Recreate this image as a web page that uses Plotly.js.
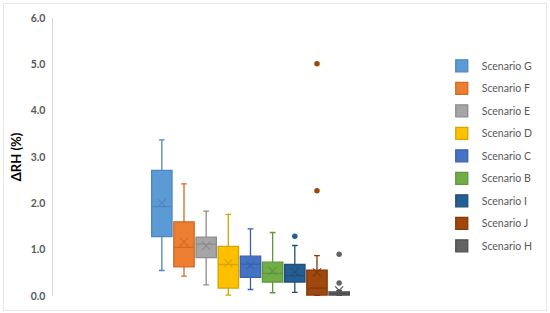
<!DOCTYPE html>
<html><head><meta charset="utf-8">
<script src="https://cdn.plot.ly/plotly-3.0.1.min.js"></script>
<style>
html,body{margin:0;padding:0;background:#fff;}
#frame{position:absolute;left:3px;top:3px;width:542px;height:306px;border:1px solid #e8e8e8;}
#chart{position:absolute;left:0;top:0;width:550px;height:313px;}
</style></head>
<body><div id="frame"></div><div id="chart"></div>
<script>
const scenarios = ["Scenario G","Scenario F","Scenario E","Scenario D","Scenario C","Scenario B","Scenario I","Scenario J","Scenario H"];
const fillColors = ["#5B9BD5","#ED7D31","#A5A5A5","#FFC000","#4472C4","#70AD47","#255E91","#9E480E","#636363"];
const lineColors = ["#4F86BD","#D06A25","#8C8C8C","#D9A300","#3A62AA","#5E963B","#1F4F7A","#84390A","#4F4F4F"];
const lowerWhisker = [0.55,0.43,0.24,0.02,0.14,0.07,0.08,0.00,0.00];
const q1Values     = [1.28,0.63,0.83,0.17,0.40,0.30,0.30,0.02,0.02];
const medianValues = [1.93,1.05,1.12,0.68,0.69,0.49,0.44,0.17,0.05];
const q3Values     = [2.71,1.60,1.27,1.07,0.86,0.73,0.68,0.56,0.09];
const upperWhisker = [3.37,2.42,1.83,1.76,1.45,1.37,1.09,0.87,0.12];
const meanValues   = [2.01,1.17,1.08,0.71,0.66,0.54,0.52,0.51,0.12];
const outlierIndex = [6,7,7,8,8];
const outlierValues= [1.29,5.01,2.27,0.90,0.28];
const yTicks = [0,1,2,3,4,5,6];

const traces = [];
scenarios.forEach((name,i)=>{
  traces.push({
    type:'box', name:name, x:[i],
    q1:[q1Values[i]], median:[medianValues[i]], q3:[q3Values[i]],
    lowerfence:[lowerWhisker[i]], upperfence:[upperWhisker[i]],
    boxpoints:false, width:0.92, whiskerwidth:0.28,
    fillcolor:fillColors[i], line:{color:lineColors[i], width:1.3},
    legendgroup:name, showlegend:true, hoverinfo:'skip'
  });
});
scenarios.forEach((name,i)=>{
  traces.push({
    type:'scatter', mode:'markers', x:[i], y:[meanValues[i]],
    marker:{symbol:'x-thin-open', size:8, line:{width:1.1, color:lineColors[i]}, color:lineColors[i]},
    showlegend:false, legendgroup:name, hoverinfo:'skip'
  });
});
const ox = outlierIndex, oc = outlierIndex.map(i=>fillColors[i]);
traces.push({
  type:'scatter', mode:'markers', x:ox, y:outlierValues,
  marker:{symbol:'circle', size:5.5, color:oc},
  showlegend:false, hoverinfo:'skip'
});

const layout = {
  width:550, height:313,
  margin:{l:53, r:110, t:18, b:17},
  paper_bgcolor:'rgba(0,0,0,0)', plot_bgcolor:'rgba(0,0,0,0)',
  boxmode:'overlay',
  font:{family:'Lato, "Open Sans", sans-serif', color:'#595959', size:10},
  xaxis:{range:[-4.91,12.37], showticklabels:false, showgrid:false, zeroline:false, showline:false, ticks:''},
  yaxis:{range:[0,6], tickvals:yTicks, tickformat:'.1f', showgrid:false, zeroline:false,
         showline:true, linecolor:'#d9d9d9', linewidth:1.5, ticks:'', ticklabelstandoff:4,
         tickfont:{family:'Lato, sans-serif', size:10.5, color:'#595959', weight:'bold'},
         title:{text:'ΔRH (%)', font:{family:'Lato, sans-serif', size:13, color:'#000', weight:'bold'}, standoff:6}},
  legend:{x:1.015, xanchor:'left', y:0.88, yanchor:'top', tracegroupgap:3.5,
          font:{family:'Lato, sans-serif', size:10.5, color:'#595959'}, bgcolor:'rgba(0,0,0,0)'},
  showlegend:true
};
Plotly.newPlot('chart', traces, layout, {staticPlot:true, displayModeBar:false});
</script></body></html>
